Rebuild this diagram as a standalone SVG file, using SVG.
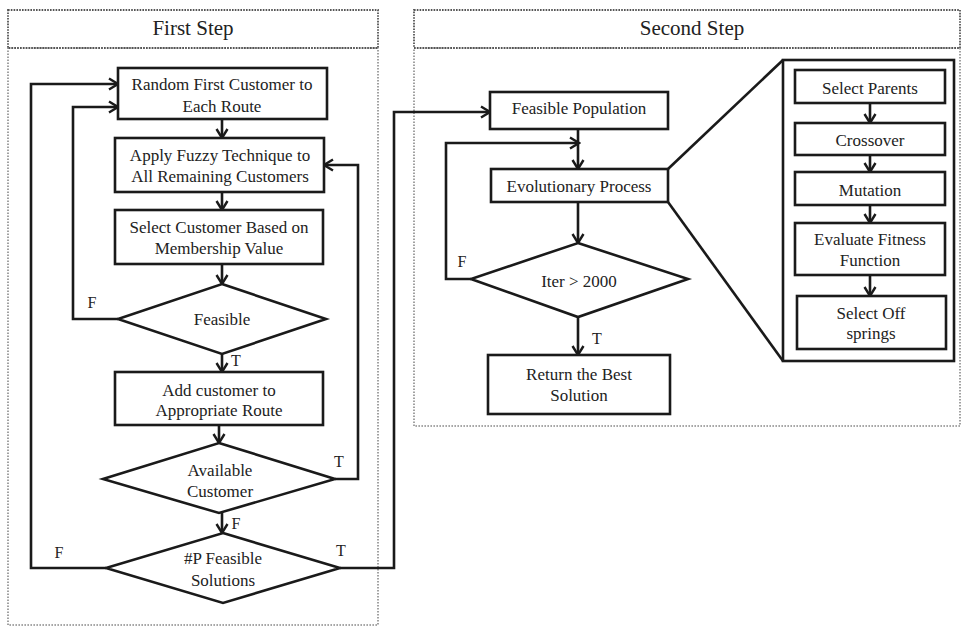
<svg xmlns="http://www.w3.org/2000/svg" width="962" height="628" viewBox="0 0 962 628">
<style>
.frame{fill:none;stroke:#8a8a8a;stroke-width:1.6;stroke-dasharray:1.6 1.4}
.hdr{fill:none;stroke:#555;stroke-width:1.8;stroke-dasharray:1.6 1.2}
.box{fill:#fff;stroke:#1a1a1a;stroke-width:2.6}
.ln{fill:none;stroke:#1a1a1a;stroke-width:2.6}
.t{font-family:"Liberation Serif","Times New Roman",serif;font-size:17px;fill:#222;text-anchor:middle}
.h{font-family:"Liberation Serif","Times New Roman",serif;font-size:21px;fill:#222;text-anchor:middle}
.l{font-family:"Liberation Serif","Times New Roman",serif;font-size:16px;fill:#222;text-anchor:middle}
</style>
<defs>
<marker id="arr" viewBox="-11 -7 13 14" refX="0" refY="0" markerWidth="13" markerHeight="14" markerUnits="userSpaceOnUse" orient="auto">
<path d="M-9,-5.5 L0,0 L-9,5.5" fill="none" stroke="#1a1a1a" stroke-width="2.4"/>
</marker>
</defs>
<rect width="962" height="628" fill="#fff"/>

<g id="first-step-frame">
<rect class="frame" x="8" y="48" width="370" height="577"/>
<rect class="hdr" x="8" y="10" width="370" height="38"/>
<text class="h" x="193" y="35">First Step</text>
</g>
<g id="second-step-frame">
<rect class="frame" x="414" y="48" width="546" height="378"/>
<rect class="hdr" x="414" y="10" width="546" height="38"/>
<text class="h" x="692" y="35">Second Step</text>
</g>

<g id="n-ga-panel">
<rect class="box" x="783" y="60" width="171" height="301"/>
</g>

<g id="connectors">
<path class="ln" d="M222,119 V138" marker-end="url(#arr)"/>
<path class="ln" d="M222,192 V210" marker-end="url(#arr)"/>
<path class="ln" d="M222,264 V284" marker-end="url(#arr)"/>
<path class="ln" d="M222,354 V372" marker-end="url(#arr)"/>
<path class="ln" d="M219,425 V443" marker-end="url(#arr)"/>
<path class="ln" d="M222,513 V533" marker-end="url(#arr)"/>
<path class="ln" d="M118,319 H73 V107 H118" marker-end="url(#arr)"/>
<path class="ln" d="M106,568 H31 V84 H118" marker-end="url(#arr)"/>
<path class="ln" d="M335,479 H358 V165 H324" marker-end="url(#arr)"/>
<path class="ln" d="M340,568 H394 V112 H490" marker-end="url(#arr)"/>
<path class="ln" d="M578,129 V169" marker-end="url(#arr)"/>
<path class="ln" d="M471,279 H446 V143 H579" marker-end="url(#arr)"/>
<path class="ln" d="M578,202 V243" marker-end="url(#arr)"/>
<path class="ln" d="M578,317 V355" marker-end="url(#arr)"/>
<path class="ln" d="M668,169 L783,60"/>
<path class="ln" d="M668,202 L783,361"/>
<path class="ln" d="M870,103 V123" marker-end="url(#arr)"/>
<path class="ln" d="M870,155 V172" marker-end="url(#arr)"/>
<path class="ln" d="M870,205 V223" marker-end="url(#arr)"/>
<path class="ln" d="M870,275 V296" marker-end="url(#arr)"/>
<text class="l" x="92" y="308">F</text>
<text class="l" x="236" y="366">T</text>
<text class="l" x="339" y="467">T</text>
<text class="l" x="236" y="529">F</text>
<text class="l" x="59" y="558">F</text>
<text class="l" x="341" y="556">T</text>
<text class="l" x="462" y="267">F</text>
<text class="l" x="597" y="344">T</text>
</g>

<g id="n-random-first">
<rect class="box" x="118" y="68" width="209" height="51"/>
<text class="t" x="222" y="90">Random First Customer to</text>
<text class="t" x="222" y="112">Each Route</text>
</g>
<g id="n-apply-fuzzy">
<rect class="box" x="115" y="138" width="209" height="54"/>
<text class="t" x="220" y="161">Apply Fuzzy Technique to</text>
<text class="t" x="220" y="182">All Remaining Customers</text>
</g>
<g id="n-select-customer">
<rect class="box" x="115" y="210" width="208" height="54"/>
<text class="t" x="219" y="233">Select Customer Based on</text>
<text class="t" x="219" y="254">Membership Value</text>
</g>
<g id="n-feasible">
<polygon class="box" points="222,284 326,319 222,354 118,319"/>
<text class="t" x="222" y="325">Feasible</text>
</g>
<g id="n-add-customer">
<rect class="box" x="115" y="372" width="208" height="53"/>
<text class="t" x="219" y="396">Add customer to</text>
<text class="t" x="219" y="416">Appropriate Route</text>
</g>
<g id="n-available">
<polygon class="box" points="219,443 335,479 219,513 103,479"/>
<text class="t" x="220" y="476">Available</text>
<text class="t" x="220" y="497">Customer</text>
</g>
<g id="n-p-feasible">
<polygon class="box" points="223,533 340,568 223,603 106,568"/>
<text class="t" x="223" y="564">#P Feasible</text>
<text class="t" x="223" y="586">Solutions</text>
</g>

<g id="n-feasible-population">
<rect class="box" x="490" y="92" width="178" height="37"/>
<text class="t" x="579" y="114">Feasible Population</text>
</g>
<g id="n-evolutionary">
<rect class="box" x="491" y="169" width="177" height="33"/>
<text class="t" x="579" y="192">Evolutionary Process</text>
</g>
<g id="n-iter">
<polygon class="box" points="578,243 688,279 578,317 471,279"/>
<text class="t" x="579" y="287">Iter &gt; 2000</text>
</g>
<g id="n-return">
<rect class="box" x="488" y="355" width="182" height="59"/>
<text class="t" x="579" y="380">Return the Best</text>
<text class="t" x="579" y="401">Solution</text>
</g>

<g id="n-select-parents">
<rect class="box" x="795" y="70" width="150" height="33"/>
<text class="t" x="870" y="94">Select Parents</text>
</g>
<g id="n-crossover">
<rect class="box" x="795" y="123" width="150" height="32"/>
<text class="t" x="870" y="146">Crossover</text>
</g>
<g id="n-mutation">
<rect class="box" x="795" y="172" width="150" height="33"/>
<text class="t" x="870" y="196">Mutation</text>
</g>
<g id="n-evaluate">
<rect class="box" x="795" y="223" width="150" height="52"/>
<text class="t" x="870" y="245">Evaluate Fitness</text>
<text class="t" x="870" y="266">Function</text>
</g>
<g id="n-select-off">
<rect class="box" x="797" y="296" width="149" height="53"/>
<text class="t" x="871" y="319">Select Off</text>
<text class="t" x="871" y="339">springs</text>
</g>
</svg>
